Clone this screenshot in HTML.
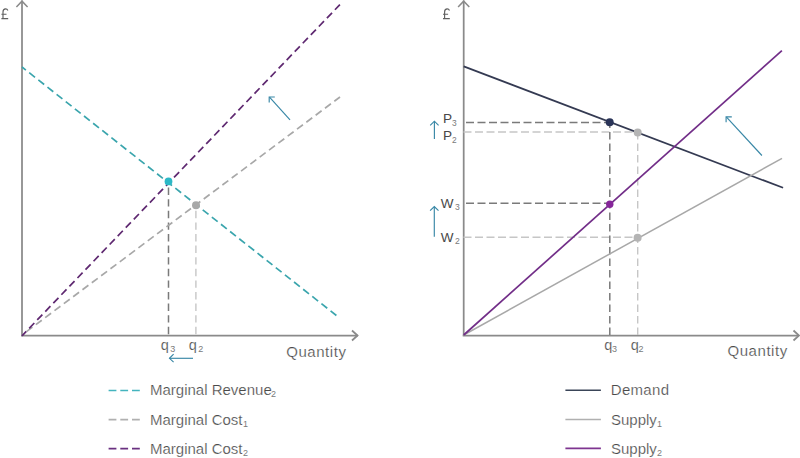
<!DOCTYPE html>
<html><head><meta charset="utf-8">
<style>
html,body{margin:0;padding:0;background:#fff;}
body{width:800px;height:458px;overflow:hidden;}
svg{display:block;}
text{font-family:"Liberation Sans",sans-serif;fill:#4a4a4a;stroke:#fff;stroke-width:0.22px;}
text.s{fill:#7a7a7a;stroke:none;}
text.l{fill:#484848;stroke:none;}
</style></head>
<body>
<svg width="800" height="458" viewBox="0 0 800 458">
<!-- ===== LEFT CHART ===== -->
<!-- axes -->
<g stroke="#8a8a8a" stroke-width="1.75" fill="none">
  <line x1="22" y1="0.5" x2="22" y2="335.5"/>
  <line x1="21" y1="335.5" x2="358" y2="335.5"/>
  <polyline points="16.4,7 22,1.2 27.6,7" stroke-width="1.5"/>
  <polyline points="352,330.5 357.5,335.5 352,340.5" stroke-width="1.8"/>
</g>
<path d="M3,18.6 V12 C3,10 4.2,8.9 5.6,8.9 C6.7,8.9 7.5,9.5 7.9,10.4 M1.4,14.25 H6.5 M1.4,18.6 H8.2" fill="none" stroke="#606060" stroke-width="1.15"/>
<!-- guide dashed verticals -->
<line x1="168.5" y1="335" x2="168.5" y2="182" stroke="#7a7a7a" stroke-width="1.5" stroke-dasharray="7.4 4.2" stroke-dashoffset="-0.8"/>
<line x1="195.9" y1="335" x2="195.9" y2="205" stroke="#c6c6c6" stroke-width="1.4" stroke-dasharray="7.4 4.2" stroke-dashoffset="-0.8"/>
<!-- lines -->
<line x1="22" y1="67" x2="336.4" y2="315.5" stroke="#3aa5ad" stroke-width="1.7" stroke-dasharray="7.4 4.24" stroke-dashoffset="2.44"/>
<line x1="22" y1="335" x2="340" y2="97" stroke="#a8a8a8" stroke-width="1.7" stroke-dasharray="7.4 4.25" stroke-dashoffset="6.0"/>
<line x1="22" y1="335.8" x2="339.9" y2="4.6" stroke="#5e2870" stroke-width="1.7" stroke-dasharray="7.4 4.22" stroke-dashoffset="1.24"/>
<!-- points -->
<circle cx="168.5" cy="181.4" r="3.9" fill="#2cb8c6"/>
<circle cx="196" cy="205.2" r="4" fill="#a8a8a8"/>
<!-- q labels -->
<text x="160.8" y="349.8" font-size="14.5">q</text><text class="s" x="170.3" y="351.6" font-size="9">3</text>
<text x="188.8" y="349.8" font-size="14.5">q</text><text class="s" x="198.3" y="351.6" font-size="9">2</text>
<text x="286.2" y="356.5" font-size="15" letter-spacing="0.55">Quantity</text>
<!-- arrows -->
<g stroke="#3887a6" stroke-width="1.15" fill="none">
  <line x1="169.5" y1="358.3" x2="193" y2="358.3"/>
  <polyline points="173.6,354.2 169.5,358.3 173.6,362.2"/>
  <line x1="269.5" y1="97.2" x2="290" y2="119.8"/>
  <polyline points="274.8,97 269.2,97 269.2,102.5"/>
</g>
<!-- legend left -->
<line x1="108.6" y1="390.5" x2="140.4" y2="390.5" stroke="#44b4be" stroke-width="1.6" stroke-dasharray="7.8 3.9"/>
<line x1="108.6" y1="419.6" x2="140.4" y2="419.6" stroke="#b0b0b0" stroke-width="1.6" stroke-dasharray="7.8 3.9"/>
<line x1="108.6" y1="448.6" x2="140.4" y2="448.6" stroke="#6a3080" stroke-width="1.6" stroke-dasharray="7.8 3.9"/>
<text x="150" y="395" font-size="15">Marginal Revenue</text><text class="s" x="271" y="397" font-size="9">2</text>
<text x="150" y="424.5" font-size="15">Marginal Cost</text><text class="s" x="243" y="426.5" font-size="9">1</text>
<text x="150" y="453.5" font-size="15">Marginal Cost</text><text class="s" x="243" y="455.5" font-size="9">2</text>

<!-- ===== RIGHT CHART ===== -->
<g stroke="#8a8a8a" stroke-width="1.75" fill="none">
  <line x1="463.7" y1="0.5" x2="463.7" y2="335.5"/>
  <line x1="462.7" y1="335.5" x2="799" y2="335.5"/>
  <polyline points="458.1,7 463.7,1.2 469.3,7" stroke-width="1.5"/>
  <polyline points="793.5,330.5 799,335.5 793.5,340.5" stroke-width="1.8"/>
</g>
<g transform="translate(441.6,0)"><path d="M3,18.6 V12 C3,10 4.2,8.9 5.6,8.9 C6.7,8.9 7.5,9.5 7.9,10.4 M1.4,14.25 H6.5 M1.4,18.6 H8.2" fill="none" stroke="#606060" stroke-width="1.15"/></g>
<!-- guide dashed -->
<line x1="466" y1="122.5" x2="609.7" y2="122.5" stroke="#7a7a7a" stroke-width="1.5" stroke-dasharray="8 3.5"/>
<line x1="463.5" y1="132" x2="637.7" y2="132" stroke="#c6c6c6" stroke-width="1.4" stroke-dasharray="8 3.5"/>
<line x1="466" y1="203.3" x2="609.8" y2="203.3" stroke="#7a7a7a" stroke-width="1.5" stroke-dasharray="8 3.5"/>
<line x1="463.5" y1="237.2" x2="637.6" y2="237.2" stroke="#c6c6c6" stroke-width="1.4" stroke-dasharray="8 3.5"/>
<line x1="609.8" y1="335" x2="609.8" y2="122.4" stroke="#7a7a7a" stroke-width="1.5" stroke-dasharray="7.5 4"/>
<line x1="637.7" y1="335" x2="637.7" y2="132" stroke="#c6c6c6" stroke-width="1.4" stroke-dasharray="7.5 4"/>
<!-- lines -->
<line x1="463.7" y1="66.4" x2="783.1" y2="187.8" stroke="#343a52" stroke-width="1.7"/>
<line x1="463.7" y1="335" x2="782" y2="158.3" stroke="#a8a8a8" stroke-width="1.5"/>
<line x1="463.7" y1="335" x2="781.9" y2="50.7" stroke="#722e88" stroke-width="1.7"/>
<!-- points -->
<circle cx="609.7" cy="122.3" r="4" fill="#2a3458"/>
<circle cx="637.7" cy="132.4" r="4" fill="#b4b4b4"/>
<circle cx="609.8" cy="204.3" r="3.7" fill="#86259a"/>
<circle cx="637.6" cy="237.8" r="4" fill="#b4b4b4"/>
<!-- labels -->
<text class="l" x="443" y="123" font-size="13.6">P</text><text class="s" x="452" y="125.5" font-size="8.4">3</text>
<text class="l" x="443" y="140" font-size="13.6">P</text><text class="s" x="452" y="142.5" font-size="8.4">2</text>
<text class="l" x="440.8" y="208" font-size="13.5">W</text><text class="s" x="455" y="210.3" font-size="8.6">3</text>
<text class="l" x="440.8" y="242" font-size="13.5">W</text><text class="s" x="455" y="244.3" font-size="8.6">2</text>
<text x="604.2" y="349.8" font-size="14.5">q</text><text class="s" x="612" y="351.6" font-size="9">3</text>
<text x="630.8" y="349.8" font-size="14.5">q</text><text class="s" x="638.5" y="351.6" font-size="9">2</text>
<text x="727.5" y="356.2" font-size="15" letter-spacing="0.55">Quantity</text>
<!-- arrows -->
<g stroke="#3887a6" stroke-width="1.15" fill="none">
  <line x1="434.4" y1="121.5" x2="434.4" y2="139"/>
  <polyline points="430.2,125.3 434.4,121.2 438.6,125.3"/>
  <line x1="434.3" y1="207" x2="434.3" y2="236.8"/>
  <polyline points="430.1,210.7 434.3,206.5 438.5,210.7"/>
  <line x1="726.5" y1="117.2" x2="761.9" y2="155.5"/>
  <polyline points="731.8,116.8 726.1,116.8 726.1,122.2"/>
</g>
<!-- legend right -->
<line x1="565.4" y1="390.2" x2="600.9" y2="390.2" stroke="#3a4558" stroke-width="1.6"/>
<line x1="565.4" y1="419.5" x2="600.9" y2="419.5" stroke="#b0b0b0" stroke-width="1.5"/>
<line x1="565.4" y1="448.4" x2="600.9" y2="448.4" stroke="#7e3590" stroke-width="1.6"/>
<text x="610.8" y="395" font-size="15" letter-spacing="0.3">Demand</text>
<text x="611" y="424.7" font-size="15">Supply</text><text class="s" x="657" y="426.7" font-size="9">1</text>
<text x="611" y="453.5" font-size="15">Supply</text><text class="s" x="657" y="455.5" font-size="9">2</text>
</svg>
</body></html>
